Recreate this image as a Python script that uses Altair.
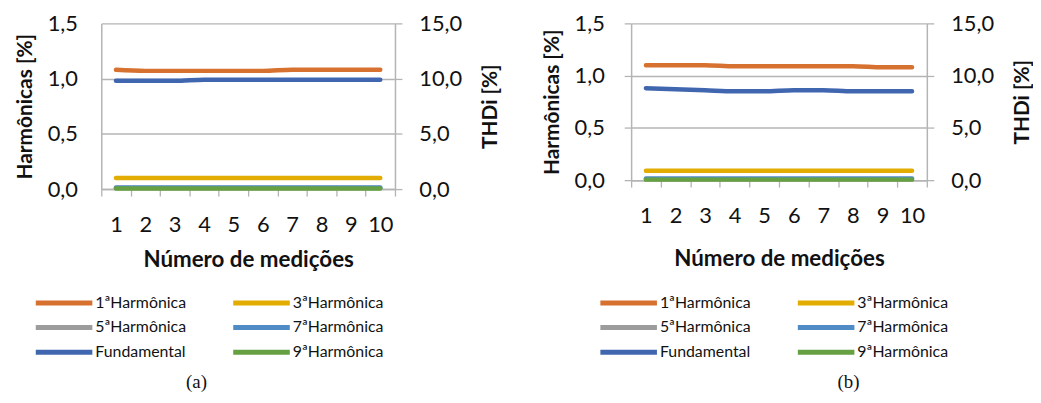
import altair as alt
import pandas as pd

medicoes = list(range(1, 11))
series = ["1ªHarmônica", "3ªHarmônica", "5ªHarmônica", "7ªHarmônica", "Fundamental", "9ªHarmônica"]
colors = ["#D7712F", "#E3AC00", "#9C9C9C", "#4F8CC5", "#4066AF", "#65A042"]

# (a) harmonics [%] and THDi [%] (Fundamental on the secondary axis)
a_h1 = [1.08, 1.07, 1.07, 1.07, 1.07, 1.07, 1.08, 1.08, 1.08, 1.08]
a_h3 = [0.10, 0.10, 0.10, 0.10, 0.10, 0.10, 0.10, 0.10, 0.10, 0.10]
a_h5 = [0.01, 0.01, 0.01, 0.01, 0.01, 0.01, 0.01, 0.01, 0.01, 0.01]
a_h7 = [0.015, 0.015, 0.015, 0.015, 0.015, 0.015, 0.015, 0.015, 0.015, 0.015]
a_h9 = [0.005, 0.005, 0.005, 0.005, 0.005, 0.005, 0.005, 0.005, 0.005, 0.005]
a_fund = [9.8, 9.8, 9.8, 9.9, 9.9, 9.9, 9.9, 9.9, 9.9, 9.9]

# (b)
b_h1 = [1.10, 1.10, 1.10, 1.09, 1.09, 1.09, 1.09, 1.09, 1.08, 1.08]
b_h3 = [0.09, 0.09, 0.09, 0.09, 0.09, 0.09, 0.09, 0.09, 0.09, 0.09]
b_h5 = [0.01, 0.01, 0.01, 0.01, 0.01, 0.01, 0.01, 0.01, 0.01, 0.01]
b_h7 = [0.015, 0.015, 0.015, 0.015, 0.015, 0.015, 0.015, 0.015, 0.015, 0.015]
b_h9 = [0.005, 0.005, 0.005, 0.005, 0.005, 0.005, 0.005, 0.005, 0.005, 0.005]
b_fund = [8.8, 8.7, 8.6, 8.5, 8.5, 8.6, 8.6, 8.5, 8.5, 8.5]

FONT = "Lato"
GRID = "#B4B4B4"
TXT = "#111111"
num_expr = "replace(format(datum.value, '.1f'), '.', ',')"


def long_df(h1, h3, h5, h7, h9):
    rows = []
    for name, vals in zip(["1ªHarmônica", "3ªHarmônica", "5ªHarmônica", "7ªHarmônica", "9ªHarmônica"],
                          [h1, h3, h5, h7, h9]):
        for m, v in zip(medicoes, vals):
            rows.append({"medicao": m, "serie": name, "valor": v})
    return pd.DataFrame(rows)


def fund_df(vals):
    return pd.DataFrame({"medicao": medicoes, "serie": "Fundamental", "valor": vals})


def panel(h1, h3, h5, h7, h9, fund, w, h, caption, left_ticks, lx, ly, cap_dx, cap_off, xt_pad):
    color = alt.Color("serie:N",
                      scale=alt.Scale(domain=series, range=colors),
                      sort=series,
                      legend=alt.Legend(title=None, orient="none", legendX=lx, legendY=ly,
                                        columns=2, direction="horizontal",
                                        symbolType="M-5,0H5", symbolSize=130, symbolStrokeWidth=5,
                                        symbolOffset=23, labelOffset=23,
                                        labelFont=FONT, labelFontSize=16, labelColor=TXT,
                                        columnPadding=36, rowPadding=4,
                                        padding=0, labelLimit=200))
    x = alt.X("medicao:O", bandPosition=0.5,
              scale=alt.Scale(type="band", paddingInner=0, paddingOuter=0),
              axis=alt.Axis(title="Número de medições", labelAngle=0, tickBand="extent",
                            labelFont=FONT, labelFontSize=22, labelColor=TXT, labelPadding=19,
                            titleFont=FONT, titleFontSize=22.5, titleFontWeight="bold", titleColor=TXT,
                            titlePadding=xt_pad, domainColor=GRID, domainWidth=1.5,
                            tickColor=GRID, tickSize=7, tickWidth=1.3, grid=False))
    harm = alt.Chart(long_df(h1, h3, h5, h7, h9)).mark_line(
        strokeWidth=4.5, strokeCap="round", interpolate="monotone").encode(
        x=x,
        y=alt.Y("valor:Q", scale=alt.Scale(domain=[0, 1.5], nice=False),
                axis=alt.Axis(title="Harmônicas [%]", values=[0, 0.5, 1.0, 1.5], labelExpr=num_expr,
                              labelFont=FONT, labelFontSize=22, labelColor=TXT,
                              labelPadding=20 if left_ticks else 24,
                              ticks=left_ticks, tickSize=7, tickColor=GRID, tickWidth=1.3,
                              titleFont=FONT, titleFontSize=21, titleFontWeight="bold", titleColor=TXT,
                              titlePadding=12, domainColor=GRID, domainWidth=1.5,
                              gridColor=GRID, gridWidth=1.5)),
        color=color,
        order=alt.Order("serie:N"),
    )
    fundl = alt.Chart(fund_df(fund)).mark_line(
        strokeWidth=4.5, strokeCap="round", interpolate="monotone").encode(
        x=x,
        y=alt.Y("valor:Q", scale=alt.Scale(domain=[0, 15], nice=False),
                axis=alt.Axis(title="THDi [%]", orient="right", values=[0, 5, 10, 15], labelExpr=num_expr,
                              labelFont=FONT, labelFontSize=22, labelColor=TXT, labelPadding=17,
                              tickSize=7, tickColor=GRID, tickWidth=1.3,
                              titleFont=FONT, titleFontSize=21, titleFontWeight="bold", titleColor=TXT,
                              titleAngle=270, titlePadding=39, domainColor=GRID, domainWidth=1.5,
                              grid=False)),
        color=color,
    )
    return alt.layer(harm, fundl).resolve_scale(y="independent").properties(
        width=w, height=h,
        title=alt.TitleParams(caption, orient="bottom", font="Liberation Serif", fontSize=19,
                              fontWeight="normal", color=TXT, dx=cap_dx, offset=cap_off))


left = panel(a_h1, a_h3, a_h5, a_h7, a_h9, a_fund, 296, 167, "(a)", False, -69, 273, -52, 10, 13)
right = panel(b_h1, b_h3, b_h5, b_h7, b_h9, b_fund, 298, 158, "(b)", True, -34, 273, 70, 10, 21)

chart = alt.hconcat(left, right, spacing=40).resolve_scale(color="independent").configure_view(
    stroke=None).properties(padding={"left": 6, "top": 3, "right": 0, "bottom": 0})

chart.save("out.html", embed_options={"renderer": "svg", "actions": False})
